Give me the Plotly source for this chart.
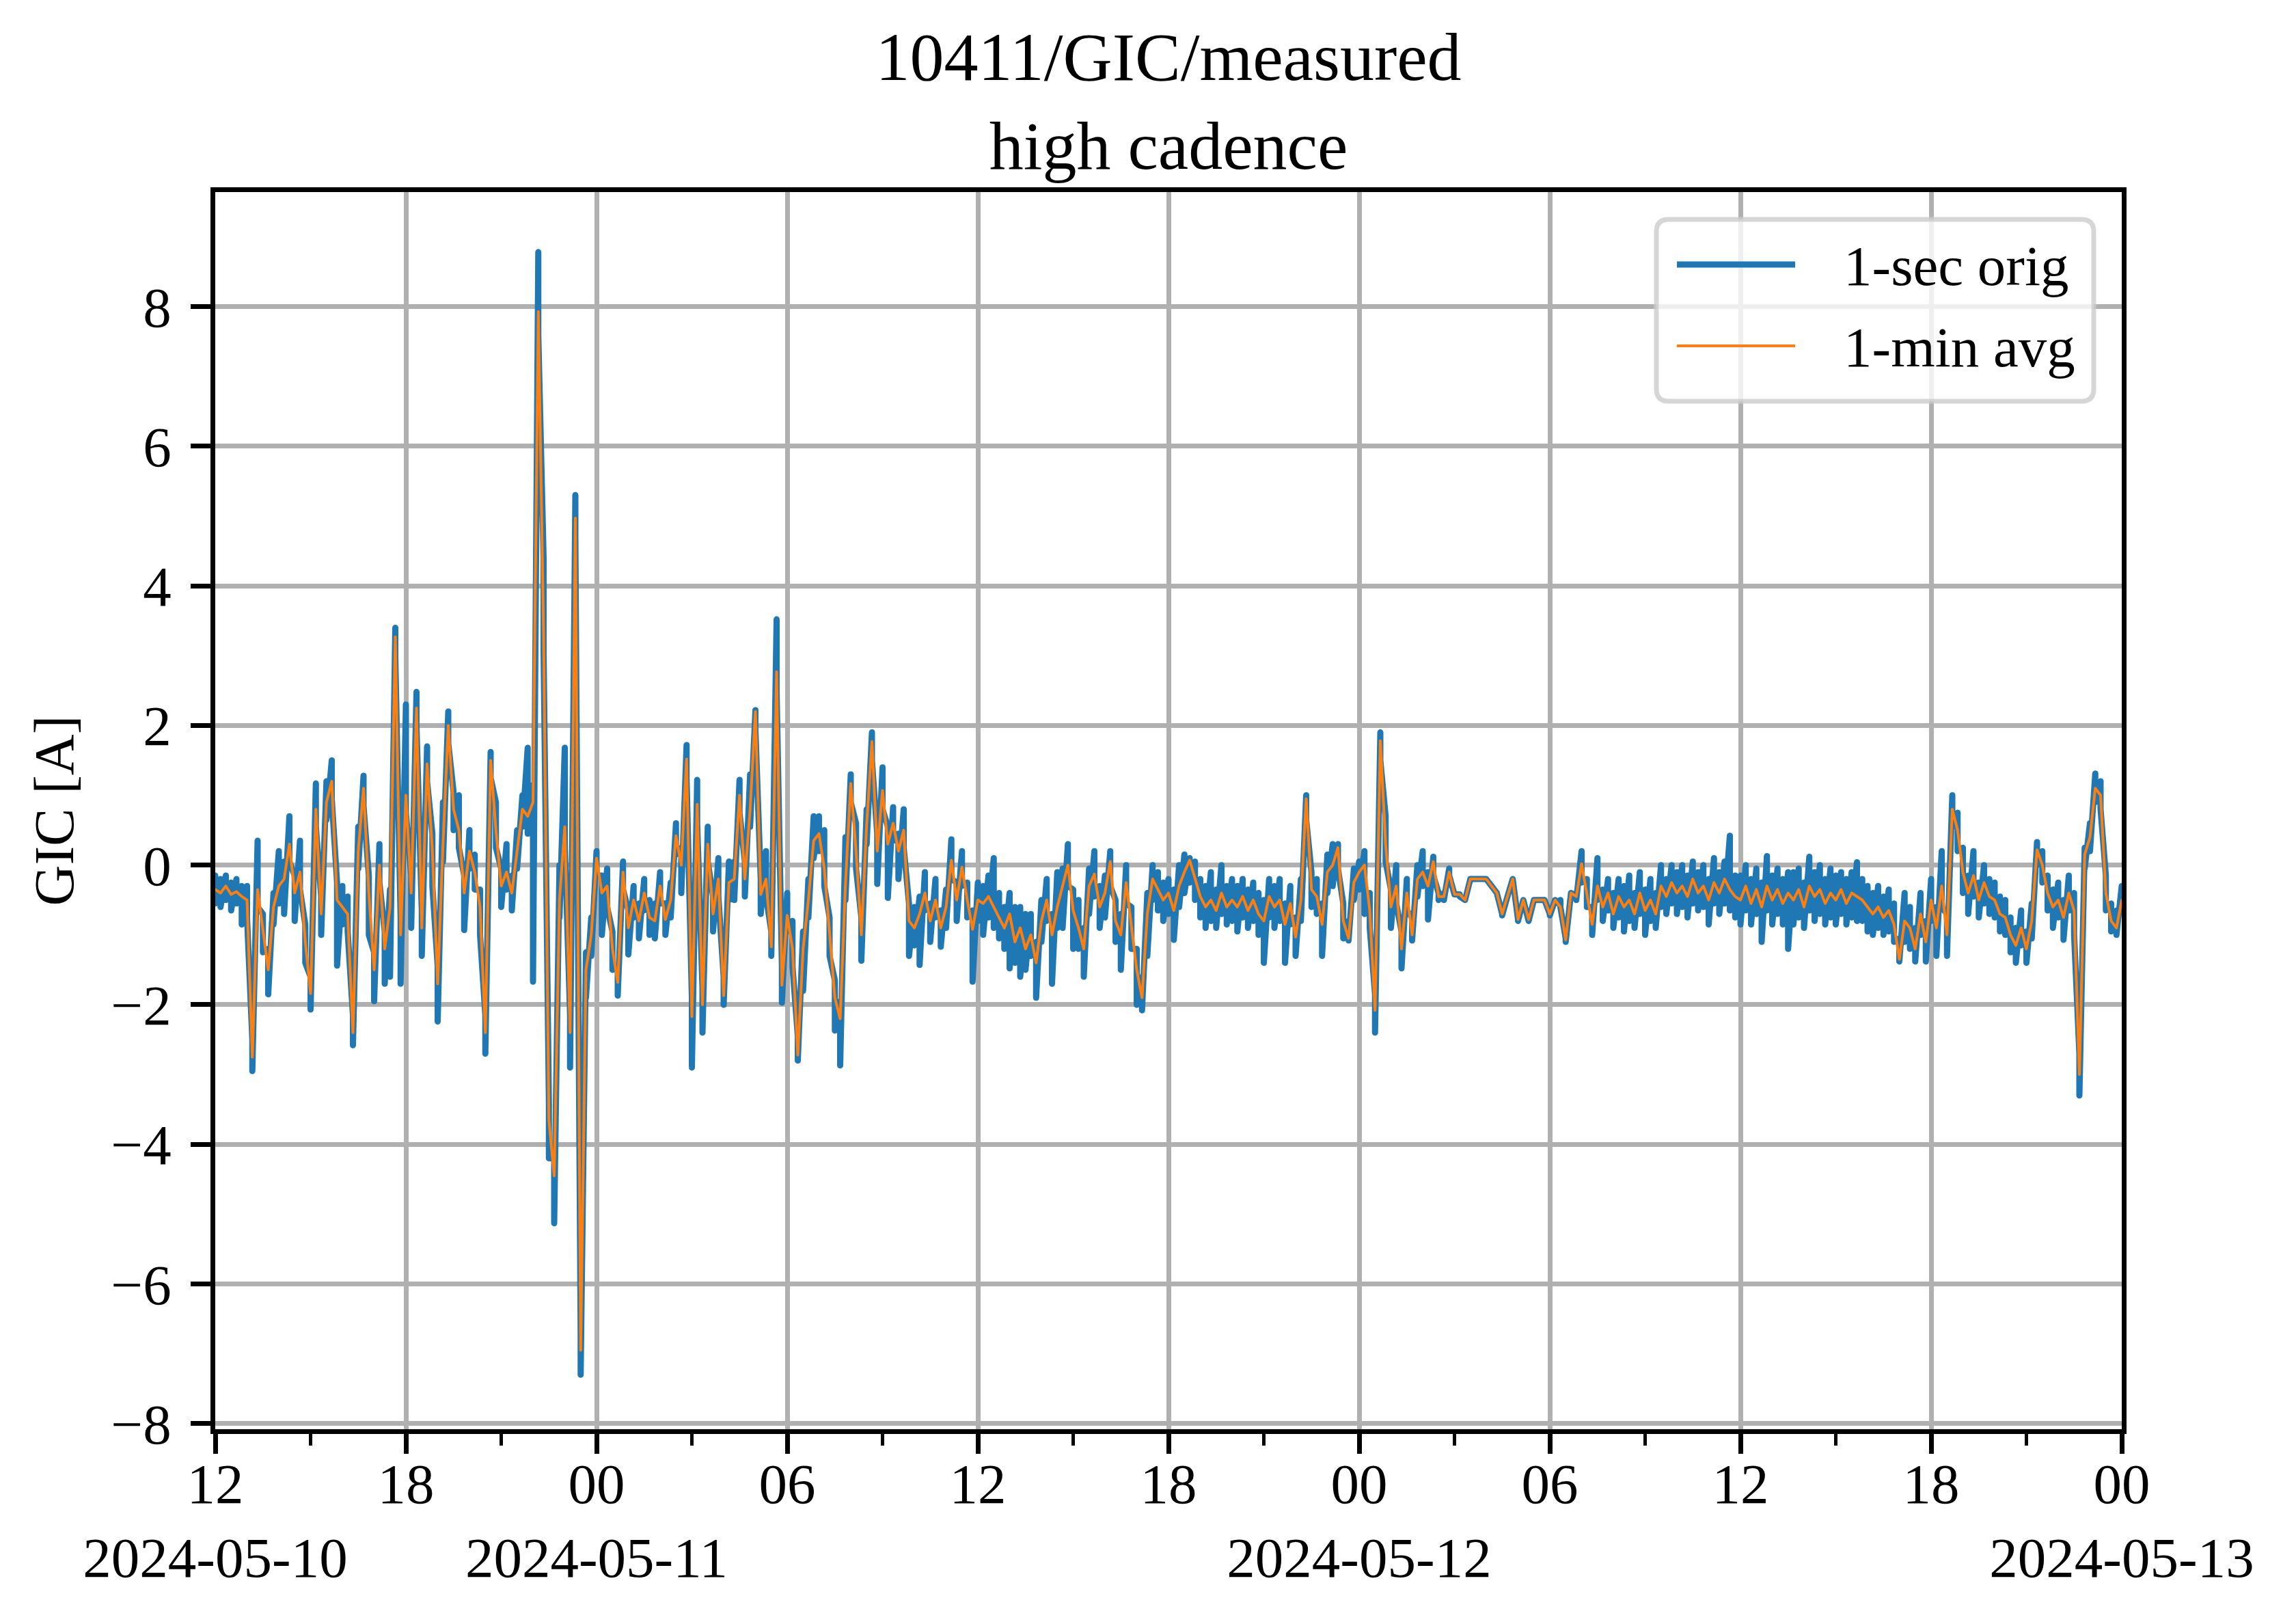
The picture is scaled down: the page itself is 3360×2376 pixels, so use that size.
import pandas as pd
import plotly.graph_objects as go

# ---------------- data (10-minute samples) ----------------
START = "2024-05-10 12:00"
STEP = "10min"

# 1-sec original: upper and lower extent of the trace inside each 10-minute slot
orig_hi = [
    -0.15, -0.20, -0.15, -0.25, -0.20, -0.30,   # 12h 10 May
    -0.30, -2.50, 0.35, -0.70, -1.20, -0.40,
    0.20, 0.05, 0.70, -0.15, 0.35, -0.85,
    -1.60, 1.17, -0.45, 1.20, 1.50, -0.25,
    -0.30, -0.45, -2.15, 0.55, 1.28, -0.15,
    -1.25, 0.30, -0.95, -0.35, 3.40, -0.75,
    2.30, -0.15, 2.48, -0.65, 1.70, 0.45,       # 18h
    -1.45, 0.90, 2.20, 1.05, 1.00, -0.15,
    0.50, 0.15, -0.35, -2.15, 1.62, 0.90,
    -0.05, 0.30, -0.15, 0.50, 1.00, 1.68,
    1.15, 8.78, 4.40, -3.40, -4.20, 0.00,
    1.68, -2.15, 5.30, -6.70, -1.25, -0.75,
    0.20, -0.15, -0.05, -0.95, -1.45, 0.05,     # 00h 11 May
    -0.65, -0.30, -0.55, -0.20, -0.50, -0.55,
    -0.10, -0.55, -0.25, 0.60, 0.25, 1.72,
    -1.90, 1.22, -1.75, 0.55, -0.45, 0.10,
    -1.60, 0.05, 0.05, 1.22, 0.05, 1.30,
    2.22, -0.20, 0.20, -0.95, 3.52, -1.45,
    -0.40, -0.80, -2.45, -0.95, -0.20, 0.70,    # 06h
    0.70, 0.50, -0.75, -1.65, -1.95, 0.40,
    1.30, 0.60, -0.75, 0.80, 1.90, 0.45,
    1.40, 0.55, 0.83, 0.45, 0.80, -0.55,
    -0.60, -0.45, -0.10, -0.55, -0.20, -0.65,
    -0.35, 0.37, -0.25, 0.20, -0.25, -0.65,
    -0.25, -0.30, -0.15, 0.10, -0.40, -0.60,    # 12h
    -0.40, -0.60, -0.60, -0.70, -0.70, -1.10,
    -0.50, -0.20, -0.70, -0.10, -0.05, 0.30,
    -0.35, -0.50, -0.90, -0.05, 0.20, -0.30,
    -0.15, 0.20, -0.50, -0.70, 0.00, -0.60,
    -1.20, -1.60, -0.40, 0.00, -0.10, -0.25,
    -0.20, -0.35, 0.00, 0.15, 0.10, 0.05,       # 18h
    -0.20, -0.30, -0.10, -0.35, 0.00, -0.30,
    -0.20, -0.30, -0.20, -0.35, -0.25, -0.40,
    -0.50, -0.20, -0.30, -0.20, -0.55, -0.30,
    -0.75, -0.20, 1.00, -0.10, -0.20, -0.55,
    0.15, 0.30, 0.30, -0.55, -0.80, -0.05,
    0.05, 0.20, -0.40, -1.85, 1.90, 0.70,       # 00h 12 May
    -0.35, 0.00, -0.95, -0.20, -0.75, 0.00,
    0.20, -0.10, 0.12, -0.40, -0.40, -0.05,
    -0.42, -0.42, -0.50, -0.20, -0.20, -0.20,
    -0.20, -0.30, -0.40, -0.70, -0.45, -0.20,
    -0.78, -0.50, -0.78, -0.50, -0.50, -0.50,
    -0.70, -0.50, -0.50, -1.05, -0.40, -0.40,   # 06h
    0.20, -0.20, -0.60, 0.10, -0.35, -0.20,
    -0.40, -0.20, -0.30, -0.15, -0.40, -0.10,
    -0.35, -0.20, -0.40, 0.00, -0.20, 0.00,
    -0.10, 0.00, -0.15, 0.05, -0.10, 0.00,
    -0.20, 0.10, -0.10, 0.05, 0.42, -0.15,
    -0.15, 0.00, -0.20, -0.05, -0.25, 0.13,     # 12h
    -0.15, -0.05, -0.20, -0.10, -0.10, -0.05,
    -0.25, 0.12, -0.10, 0.00, -0.20, -0.05,
    -0.15, -0.10, -0.20, -0.10, 0.04, -0.20,
    -0.30, -0.40, -0.30, -0.45, -0.35, -0.55,
    -1.05, -0.40, -0.60, -0.90, -0.40, -0.80,
    -0.20, -0.60, 0.20, -0.70, 1.00, 0.75,      # 18h
    0.25, -0.15, 0.20, -0.25, 0.00, -0.20,
    -0.25, -0.45, -0.50, -0.75, -0.90, -0.65,
    -0.95, -0.55, 0.33, 0.20, -0.15, -0.35,
    -0.25, -0.50, -0.15, -0.40, -2.70, 0.25,
    0.60, 1.31, 1.20, -0.15, -0.55, -0.65,
    -0.30,                                      # 00h 13 May
]

orig_lo = [
    -0.55, -0.60, -0.50, -0.65, -0.55, -0.85,
    -0.75, -2.95, -0.60, -1.25, -1.85, -0.85,
    -0.55, -0.70, 0.05, -0.80, -0.35, -1.40,
    -2.07, 0.55, -1.00, 0.65, 0.95, -1.44,
    -0.85, -0.95, -2.58, -0.05, 0.85, -1.00,
    -1.95, -0.25, -1.70, -1.60, 3.00, -1.70,
    0.75, -0.90, 2.00, -1.30, 1.20, -0.30,
    -2.24, 0.05, 1.75, 0.50, 0.25, -0.93,
    -0.05, -0.35, -1.00, -2.70, 1.25, 0.25,
    -0.60, -0.35, -0.65, -0.05, 0.55, 0.45,
    -1.67, 7.60, 3.05, -4.20, -5.13, -0.75,
    0.30, -2.90, 4.70, -7.30, -1.90, -1.30,
    -0.15, -1.00, -0.60, -1.50, -1.87, -0.35,
    -1.28, -0.75, -1.05, -0.65, -1.00, -1.05,
    -0.55, -1.00, -0.75, 0.15, -0.40, 1.25,
    -2.90, 0.60, -2.40, 0.05, -0.95, -0.45,
    -2.00, -0.50, -0.50, 0.75, -0.45, 0.55,
    1.95, -0.70, -0.45, -1.30, 2.50, -1.97,
    -0.95, -1.45, -2.80, -1.80, -0.75, 0.10,
    0.20, -0.30, -1.30, -2.37, -2.87, -0.50,
    0.90, -0.05, -1.37, 0.30, 1.50, -0.27,
    0.80, -0.47, 0.35, -0.20, 0.25, -1.30,
    -1.15, -1.43, -0.65, -1.10, -0.75, -1.17,
    -0.90, -0.20, -0.80, -0.30, -0.75, -1.67,
    -0.80, -1.00, -0.75, -0.90, -1.05, -1.20,
    -1.48, -1.40, -1.60, -1.50, -1.30, -1.90,
    -1.10, -0.80, -1.70, -0.90, -0.90, -0.30,
    -1.20, -1.20, -1.60, -0.70, -0.45, -0.90,
    -0.75, -0.30, -1.10, -1.50, -0.55, -1.20,
    -2.00, -2.08, -1.30, -0.50, -0.65, -0.80,
    -0.70, -1.07, -0.60, -0.40, -0.25, -0.50,
    -0.75, -0.90, -0.80, -0.90, -0.70, -0.85,
    -0.80, -0.95, -0.75, -0.90, -0.80, -1.00,
    -1.40, -0.75, -0.90, -0.80, -1.40, -0.85,
    -1.30, -0.80, 0.65, -0.60, -0.70, -1.30,
    -0.40, -0.30, -0.05, -1.05, -1.08, -0.50,
    -0.35, -0.70, -0.90, -2.40, 1.50, 0.05,
    -0.90, -0.55, -1.48, -0.65, -1.08, -0.45,
    -0.30, -0.78, -0.15, -0.50, -0.50, -0.15,
    -0.42, -0.45, -0.50, -0.20, -0.20, -0.20,
    -0.20, -0.30, -0.40, -0.72, -0.45, -0.20,
    -0.80, -0.50, -0.80, -0.50, -0.50, -0.50,
    -0.72, -0.55, -0.60, -1.10, -0.45, -0.50,
    -0.25, -0.60, -1.00, -0.50, -0.80, -0.65,
    -0.90, -0.75, -0.95, -0.80, -0.90, -0.70,
    -1.00, -0.80, -0.90, -0.60, -0.70, -0.55,
    -0.70, -0.60, -0.75, -0.55, -0.65, -0.60,
    -0.85, -0.55, -0.70, -0.55, -0.65, -0.75,
    -0.85, -0.65, -0.85, -0.70, -1.10, -0.65,
    -0.85, -0.70, -0.85, -1.20, -0.85, -0.75,
    -0.90, -0.65, -0.80, -0.70, -0.85, -0.75,
    -0.85, -0.70, -0.85, -0.75, -0.80, -0.80,
    -0.95, -1.00, -0.90, -1.00, -0.95, -1.10,
    -1.38, -1.10, -1.20, -1.38, -1.00, -1.38,
    -0.80, -1.30, -0.60, -1.30, 0.55, 0.20,
    -0.40, -0.70, -0.45, -0.75, -0.55, -0.70,
    -0.75, -0.95, -1.00, -1.25, -1.40, -1.15,
    -1.40, -1.05, 0.00, -0.25, -0.65, -0.90,
    -0.75, -1.07, -0.65, -1.00, -3.30, -0.05,
    0.20, 0.90, 0.80, -0.65, -0.95, -1.00,
    -0.60,
]

# 1-minute average, 6 values per hour
avg_1min = [
    -0.35, -0.40, -0.30, -0.42, -0.38, -0.45,
    -0.50, -2.75, -0.35, -0.95, -1.50, -0.60,
    -0.30, -0.20, 0.30, -0.40, -0.10, -1.10,
    -1.84, 0.80, -0.70, 0.90, 1.20, -0.50,
    -0.60, -0.70, -2.40, 0.20, 1.10, -0.40,
    -1.50, 0.00, -1.20, -0.60, 3.27, -1.00,
    1.00, -0.40, 2.25, -0.90, 1.45, 0.20,
    -1.70, 0.30, 2.00, 0.80, 0.50, -0.40,
    0.20, -0.10, -0.60, -2.40, 1.50, 0.50,
    -0.30, -0.10, -0.40, 0.20, 0.80, 0.70,
    0.90, 7.93, 3.30, -3.65, -4.45, -0.50,
    0.55, -2.40, 4.97, -6.95, -1.50, -1.00,
    0.10, -0.40, -0.30, -1.20, -1.68, -0.10,
    -0.90, -0.50, -0.80, -0.40, -0.75, -0.80,
    -0.30, -0.78, -0.50, 0.42, 0.00, 1.52,
    -2.17, 0.87, -2.00, 0.30, -0.70, -0.20,
    -1.87, -0.25, -0.20, 1.00, -0.20, 0.80,
    2.20, -0.42, -0.20, -1.17, 2.77, -1.72,
    -0.72, -1.20, -2.72, -1.20, -0.50, 0.35,
    0.45, -0.05, -1.00, -1.90, -2.20, -0.27,
    1.17, 0.20, -1.00, 0.57, 1.77, 0.20,
    1.07, 0.30, 0.60, 0.20, 0.50, -0.80,
    -0.90, -0.70, -0.40, -0.80, -0.50, -0.90,
    -0.60, 0.07, -0.50, -0.03, -0.50, -0.92,
    -0.50, -0.55, -0.45, -0.60, -0.75, -0.90,
    -0.70, -1.10, -0.90, -1.20, -1.00, -1.40,
    -0.80, -0.50, -1.00, -0.60, -0.30, 0.00,
    -0.65, -0.90, -1.20, -0.30, -0.13, -0.60,
    -0.40, 0.05, -0.80, -1.00, -0.25, -0.90,
    -1.50, -1.90, -0.70, -0.20, -0.35, -0.50,
    -0.40, -0.65, -0.30, -0.10, 0.07, -0.20,
    -0.45, -0.60, -0.50, -0.65, -0.40, -0.60,
    -0.50, -0.60, -0.45, -0.65, -0.50, -0.70,
    -0.80, -0.45, -0.60, -0.50, -0.85, -0.55,
    -1.03, -0.50, 0.95, -0.35, -0.45, -0.85,
    -0.10, 0.00, 0.25, -0.80, -1.05, -0.25,
    -0.10, 0.00, -0.65, -2.08, 1.78, 0.30,
    -0.60, -0.30, -1.20, -0.40, -1.00, -0.20,
    -0.10, -0.30, 0.05, -0.45, -0.45, -0.10,
    -0.42, -0.42, -0.50, -0.20, -0.20, -0.20,
    -0.20, -0.30, -0.40, -0.70, -0.45, -0.20,
    -0.78, -0.50, -0.78, -0.50, -0.50, -0.50,
    -0.70, -0.50, -0.60, -1.07, -0.40, -0.45,
    0.02, -0.40, -0.85, -0.30, -0.60, -0.40,
    -0.70, -0.45, -0.60, -0.50, -0.70, -0.40,
    -0.65, -0.50, -0.70, -0.30, -0.45, -0.25,
    -0.40, -0.30, -0.45, -0.20, -0.40, -0.30,
    -0.50, -0.25, -0.40, -0.20, -0.35, -0.45,
    -0.50, -0.30, -0.55, -0.35, -0.60, -0.30,
    -0.50, -0.35, -0.55, -0.40, -0.50, -0.35,
    -0.60, -0.30, -0.45, -0.35, -0.55, -0.40,
    -0.50, -0.35, -0.55, -0.40, -0.45, -0.50,
    -0.60, -0.70, -0.60, -0.75, -0.65, -0.85,
    -1.35, -0.80, -0.90, -1.20, -0.70, -1.10,
    -0.50, -0.90, -0.30, -1.00, 0.80, 0.50,
    -0.10, -0.40, -0.15, -0.50, -0.25, -0.45,
    -0.50, -0.70, -0.75, -1.00, -1.15, -0.90,
    -1.20, -0.80, 0.22, 0.00, -0.40, -0.60,
    -0.50, -0.75, -0.40, -0.65, -3.00, 0.15,
    0.40, 1.10, 1.00, -0.40, -0.80, -0.90,
    -0.50,
]

# axis ticks
X_START, X_END = "2024-05-10 12:00", "2024-05-13 00:00"
major_ticks = pd.date_range(X_START, X_END, freq="6h")
major_text = ["12<br>2024-05-10", "18", "00<br>2024-05-11", "06", "12", "18",
              "00<br>2024-05-12", "06", "12", "18", "00<br>2024-05-13"]
minor_ticks = pd.date_range("2024-05-10 15:00", "2024-05-12 21:00", freq="6h")
y_ticks = [-8, -6, -4, -2, 0, 2, 4, 6, 8]
y_text = ["\u22128", "\u22126", "\u22124", "\u22122", "0", "2", "4", "6", "8"]
Y_RANGE = [-8.08, 9.64]

series_names = ["1-sec orig", "1-min avg"]
BLUE, ORANGE = "#1f77b4", "#ff7f0e"

times = pd.date_range(START, periods=len(avg_1min), freq=STEP)
assert len(orig_hi) == len(orig_lo) == len(avg_1min)
# the 1-sec trace sweeps from its upper to its lower extent in every slot
env_t = [t for t in times for _ in (0, 1)]
env_y = [v for pair in zip(orig_hi, orig_lo) for v in pair]

# ---------------- figure ----------------
PAGE_OFF = 8                        # default body margin of the html page
W, H = 3360 - 2 * PAGE_OFF, 2376 - 2 * PAGE_OFF
# plot area in page pixels: x 315..3105, y 281..2091
ML, MT = 315 - PAGE_OFF, 281 - PAGE_OFF
MR, MB = PAGE_OFF + W - 3105, PAGE_OFF + H - 2091
PW, PH = W - ML - MR, H - MT - MB
FONT = "Liberation Serif, Times New Roman, serif"


def px_x(x):   # page pixel -> paper
    return (x - PAGE_OFF - ML) / PW


def px_y(y):
    return (PAGE_OFF + H - MB - y) / PH


fig = go.Figure()
fig.add_trace(go.Scatter(x=env_t, y=env_y, mode="lines", name=series_names[0],
                         line=dict(color=BLUE, width=9), showlegend=False))
fig.add_trace(go.Scatter(x=times, y=avg_1min, mode="lines", name=series_names[1],
                         line=dict(color=ORANGE, width=4), showlegend=False))

fig.update_layout(
    width=W, height=H,
    margin=dict(l=ML, r=MR, t=MT, b=MB, autoexpand=False),
    paper_bgcolor="white", plot_bgcolor="white",
    font=dict(family=FONT, size=83, color="black"),
    title=dict(text="10411/GIC/measured<br>high cadence", font=dict(size=100),
               x=0.5, xref="paper", xanchor="center",
               y=1 - 109 / H, yref="container", yanchor="top"),
)

axis_common = dict(
    ticks="outside", ticklen=29, tickwidth=6.5, tickcolor="black",
    showline=True, linecolor="black", linewidth=6.5, mirror=True,
    showgrid=True, gridcolor="#b0b0b0", gridwidth=6.5, zeroline=False,
    tickfont=dict(size=83, family=FONT, color="black"),
)
fig.update_xaxes(type="date", range=[X_START, X_END], tickmode="array",
                 tickvals=major_ticks, ticktext=major_text, ticklabelstandoff=-27,
                 minor=dict(tickmode="array", tickvals=minor_ticks, ticks="outside",
                            ticklen=17, tickwidth=5, tickcolor="black", showgrid=False),
                 **axis_common)
fig.update_yaxes(range=Y_RANGE, tickmode="array", tickvals=y_ticks, ticktext=y_text,
                 ticklabelstandoff=12,
                 title=dict(text="GIC [A]", font=dict(size=83, family=FONT), standoff=30),
                 **axis_common)

# legend box (matplotlib style)
x0, x1, y0, y1 = px_x(2424), px_x(3064), px_y(587), px_y(321)
rx, ry = 18 / PW, 18 / PH
path = (f"M{x0+rx},{y0} L{x1-rx},{y0} Q{x1},{y0} {x1},{y0+ry} L{x1},{y1-ry} "
        f"Q{x1},{y1} {x1-rx},{y1} L{x0+rx},{y1} Q{x0},{y1} {x0},{y1-ry} "
        f"L{x0},{y0+ry} Q{x0},{y0} {x0+rx},{y0} Z")
fig.add_shape(type="path", path=path, xref="paper", yref="paper",
              fillcolor="rgba(255,255,255,0.8)", line=dict(color="rgba(204,204,204,0.8)", width=7),
              layer="above")
for name, color, width, ly in [(series_names[0], BLUE, 9, 387), (series_names[1], ORANGE, 4, 506)]:
    fig.add_shape(type="line", xref="paper", yref="paper",
                  x0=px_x(2454), x1=px_x(2627), y0=px_y(ly), y1=px_y(ly),
                  line=dict(color=color, width=width), layer="above")
    fig.add_annotation(x=px_x(2696), y=px_y(ly + 2), xref="paper", yref="paper", text=name,
                       showarrow=False, xanchor="left", yanchor="middle",
                       font=dict(size=83, family=FONT, color="black"))

ROUND_JOINS = ("document.querySelectorAll('.scatterlayer path.js-line').forEach("
               "function(p){p.style.strokeLinejoin='round';p.style.strokeLinecap='round';});")
fig.write_html("out.html", post_script=ROUND_JOINS)
